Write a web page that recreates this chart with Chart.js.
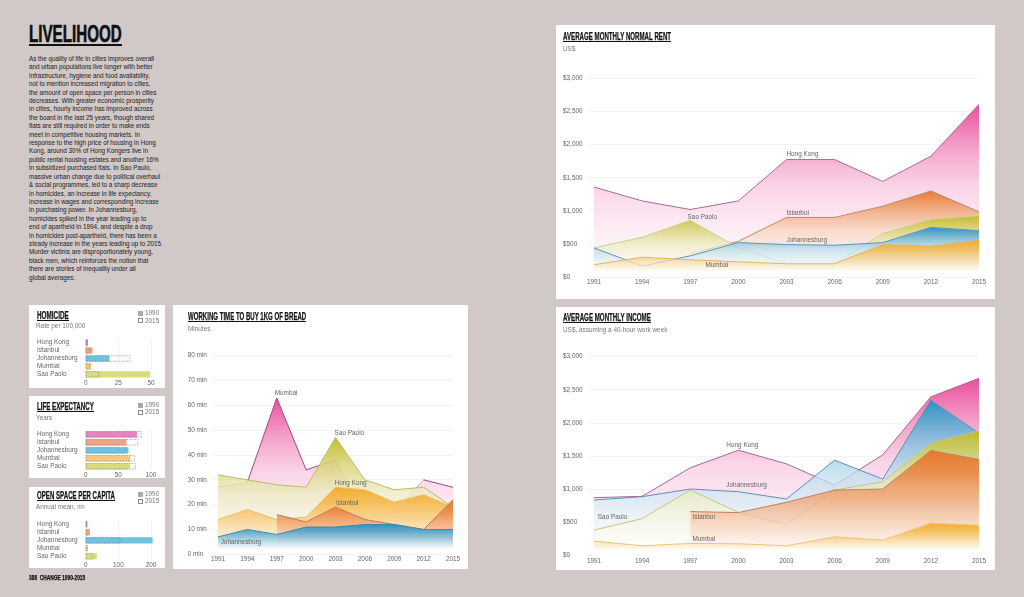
<!DOCTYPE html>
<html>
<head>
<meta charset="utf-8">
<title>Livelihood</title>
<script src="https://cdn.jsdelivr.net/npm/chart.js@4"></script>
<style>
  html, body { margin: 0; padding: 0; }
  body { width: 1024px; height: 597px; background: #d1c9c8; position: relative; overflow: hidden; font-family: "Liberation Sans", sans-serif; }
  .panel { position: absolute; background: #fff; }
  .panel canvas { position: absolute; left: 0; top: 0; }
  .title, .heading, .footer { position: absolute; white-space: nowrap; font-family: "Liberation Sans Narrow", "Liberation Sans", sans-serif; font-weight: 700; color: #111; transform-origin: left top; -webkit-text-stroke: 0.25px #111; }
  .title { font-size: 10.5px; line-height: 9px; border-bottom: 1px solid #111; }
  .heading { font-size: 23px; line-height: 19px; border-bottom: 2px solid #111; left: 29px; top: 25px; -webkit-text-stroke: 0.6px #111; }
  .footer { font-size: 7px; line-height: 8px; left: 29px; top: 574px; }
  .sub { position: absolute; font-size: 6.4px; line-height: 8px; color: #777; white-space: nowrap; }
  .body { position: absolute; left: 29px; top: 55px; font-size: 6.3px; line-height: 8.41px; color: #2a2a2a; white-space: nowrap; -webkit-text-stroke: 0.05px #222; }
  .key { position: absolute; width: 4.5px; height: 4.5px; box-sizing: border-box; }
  .key.old { background: #aaa; }
  .key.new { border: 0.6px dashed #888; }
</style>
</head>
<body>

<div class="heading" data-w="93">LIVELIHOOD</div>
<div class="body">As the quality of life in cities improves overall<br>and urban populations live longer with better<br>infrastructure, hygiene and food availability,<br>not to mention increased migration to cities,<br>the amount of open space per person in cities<br>decreases. With greater economic prosperity<br>in cities, hourly income has improved across<br>the board in the last 25 years, though shared<br>flats are still required in order to make ends<br>meet in competitive housing markets. In<br>response to the high price of housing in Hong<br>Kong, around 30% of Hong Kongers live in<br>public rental housing estates and another 16%<br>in subsidized purchased flats. In Sao Paulo,<br>massive urban change due to political overhaul<br>&amp; social programmes, led to a sharp decrease<br>in homicides, an increase in life expectancy,<br>increase in wages and corresponding increase<br>in purchasing power. In Johannesburg,<br>homicides spiked in the year leading up to<br>end of apartheid in 1994, and despite a drop<br>in homicides post-apartheid, there has been a<br>steady increase in the years leading up to 2015.<br>Murder victims are disproportionately young,<br>black men, which reinforces the notion that<br>there are stories of inequality under all<br>global averages.</div>

<div class="panel" style="left:556px;top:25px;width:439px;height:274px"><canvas id="rentChart" width="439" height="274"></canvas>
  <div class="title" data-w="108" style="left:7px;top:7px">AVERAGE MONTHLY NORMAL RENT</div>
  <div class="sub" style="left:7px;top:20px">US$</div>
</div>

<div class="panel" style="left:556px;top:307px;width:439px;height:263px"><canvas id="incomeChart" width="439" height="263"></canvas>
  <div class="title" data-w="88" style="left:7px;top:6px">AVERAGE MONTHLY INCOME</div>
  <div class="sub" style="left:7px;top:19px">US$, assuming a 40-hour work week</div>
</div>

<div class="panel" style="left:173px;top:305px;width:295px;height:264px"><canvas id="breadChart" width="295" height="264"></canvas>
  <div class="title" data-w="118" style="left:15px;top:7px">WORKING TIME TO BUY 1KG OF BREAD</div>
  <div class="sub" style="left:15px;top:20px">Minutes</div>
</div>

<div class="panel" style="left:29px;top:305px;width:136px;height:83px"><canvas id="homicideChart" width="136" height="83"></canvas>
  <div class="title" data-w="32" style="left:8px;top:6px">HOMICIDE</div>
  <div class="sub" style="left:7px;top:17px">Rate per 100,000</div>
  <div class="key old" style="left:109px;top:6px"></div><div class="sub" style="left:116px;top:4px">1990</div>
  <div class="key new" style="left:109px;top:13px"></div><div class="sub" style="left:116px;top:12px">2015</div>
</div>

<div class="panel" style="left:29px;top:396px;width:136px;height:82px"><canvas id="lifeChart" width="136" height="82"></canvas>
  <div class="title" data-w="57" style="left:8px;top:6px">LIFE EXPECTANCY</div>
  <div class="sub" style="left:7px;top:18px">Years</div>
  <div class="key old" style="left:109px;top:7px"></div><div class="sub" style="left:116px;top:5px">1990</div>
  <div class="key new" style="left:109px;top:14px"></div><div class="sub" style="left:116px;top:12px">2015</div>
</div>

<div class="panel" style="left:29px;top:487px;width:136px;height:81px"><canvas id="openChart" width="136" height="81"></canvas>
  <div class="title" data-w="78" style="left:8px;top:4px">OPEN SPACE PER CAPITA</div>
  <div class="sub" style="left:7px;top:16px">Annual mean, m²</div>
  <div class="key old" style="left:109px;top:5px"></div><div class="sub" style="left:116px;top:3px">1990</div>
  <div class="key new" style="left:109px;top:12px"></div><div class="sub" style="left:116px;top:10px">2015</div>
</div>

<div class="footer" data-w="56">386&nbsp;&nbsp;CHANGE 1990-2015</div>

<script>
var years = ["1991","1994","1997","2000","2003","2006","2009","2012","2015"];
var cities = ["Hong Kong","Istanbul","Johannesburg","Mumbai","Sao Paolo"];

var rentTicks = ["$0","$500","$1,000","$1,500","$2,000","$2,500","$3,000"];
var rentHongKong = [1360,1150,1020,1150,1775,1775,1445,1825,2610];
var rentIstanbul = [null,null,355,540,900,900,1070,1300,985];
var rentSaoPaolo = [440,600,855,440,205,205,655,870,925];
var rentJohannesburg = [440,165,320,520,490,480,520,750,700];
var rentMumbai = [185,300,260,230,200,200,490,465,555];

var incomeHongKong = [875,895,1325,1590,1385,1065,1520,2395,2675];
var incomeJohannesburg = [840,890,1005,965,855,1440,1155,2345,1845];
var incomeSaoPaolo = [385,560,990,655,470,990,1115,1695,1880];
var incomeIstanbul = [null,null,665,650,805,990,1005,1585,1450];
var incomeMumbai = [220,150,185,180,150,285,235,490,460];

var breadTicks = ["0 min","10 min","20 min","30 min","40 min","50 min","60 min","70 min","80 min"];
var breadMumbai = [27,29,63,34,38,14,17,30,27];
var breadSaoPaolo = [32,30,28,27,47,30,26,27,19];
var breadHongKong = [14,18,14,15,27,26,21,24,19];
var breadIstanbul = [null,null,16,13,19,14,12,10,22];
var breadJohannesburg = [7,10,8,11,11,12,12,10,10];

var homicide1990 = [1.5,5,18,4,49];
var homicide2015 = [1.5,3,34,3,10];
var life1990 = [78,62,65,68,67];
var life2015 = [85,80,60,75,76];
var open1990 = [4,11,204,5,33];
var open2015 = [4,12,105,5,20];

var pink = [232,72,150], orange = [232,118,44], olive = [192,188,40], blue = [40,146,198], amber = [244,172,44];
var barColors = ["#e884bb","#eda484","#6fc1e0","#f5c87c","#d9dc7c"];
var tickFont = { family: "Liberation Sans", size: 6.4 };

// how far each stop of a fill is washed towards white
var sharpFade = [0, 0.38, 0.7, 0.87, 1];
var softFade = [0, 0.12, 0.35, 0.68, 1];

function tint(rgb, white, alpha) {
  var c = rgb.map(function (v) { return Math.round(v + (255 - v) * white); });
  return "rgba(" + c.join(",") + "," + alpha + ")";
}

// area fill that washes out to white going down from the series' own peak
function fade(rgb, values, curve) {
  return function (c) {
    var area = c.chart.chartArea;
    if (!area) return "transparent";
    var y = c.chart.scales.y;
    var top = y.getPixelForValue(Math.max.apply(null, values));
    var g = c.chart.ctx.createLinearGradient(0, top, 0, area.bottom - 5);
    g.addColorStop(0, tint(rgb, curve[0], 0.97));
    g.addColorStop(0.25, tint(rgb, curve[1], 0.85));
    g.addColorStop(0.5, tint(rgb, curve[2], 0.75));
    g.addColorStop(0.75, tint(rgb, curve[3], 0.75));
    g.addColorStop(1, tint(rgb, curve[4], 0.85));
    return g;
  };
}

function area(values, rgb, line, curve) {
  return { data: values, fill: "origin", tension: 0, pointRadius: 0, borderWidth: 1, borderColor: line, backgroundColor: fade(rgb, values, curve || sharpFade) };
}

// city names written next to the lines, in data coordinates
var cityLabels = {
  id: "cityLabels",
  afterDatasetsDraw: function (chart, args, opts) {
    var ctx = chart.ctx;
    ctx.save();
    ctx.font = "6.4px 'Liberation Sans'";
    ctx.fillStyle = "#666";
    ctx.textBaseline = "middle";
    (opts.items || []).forEach(function (it) {
      ctx.fillText(it[0], chart.scales.x.getPixelForValue(it[1]), chart.scales.y.getPixelForValue(it[2]));
    });
    ctx.restore();
  }
};

// bars have no dash option, so the 2015 outlines go on afterwards
var dashedBars = {
  id: "dashedBars",
  afterDatasetsDraw: function (chart) {
    if (chart.config.type !== "bar") return;
    var ctx = chart.ctx;
    ctx.save();
    ctx.setLineDash([1.5, 1.2]);
    ctx.lineWidth = 0.6;
    ctx.strokeStyle = "#6f7f88";
    chart.getDatasetMeta(1).data.forEach(function (bar) {
      ctx.strokeRect(bar.base, bar.y - bar.height / 2, bar.x - bar.base, bar.height);
    });
    ctx.restore();
  }
};

function lineChart(id, sets, ticks, step, labels, box) {
  new Chart(document.getElementById(id), {
    type: "line",
    data: { labels: years, datasets: sets },
    plugins: [cityLabels],
    options: {
      responsive: false,
      animation: false,
      layout: { padding: { left: box.left, top: box.top, right: box.right, bottom: 0 } },
      plugins: { legend: { display: false }, tooltip: { enabled: false }, cityLabels: { items: labels } },
      scales: {
        x: {
          grid: { display: false, drawTicks: false },
          border: { display: false },
          ticks: { font: tickFont, color: "#666", padding: 1.5, maxRotation: 0, autoSkip: false },
          afterFit: function (s) { s.height = box.xHeight; }
        },
        y: {
          min: 0,
          max: step * (ticks.length - 1),
          grid: { color: "#eeeeee", lineWidth: 0.7, tickLength: 6 },
          border: { display: false },
          ticks: {
            stepSize: step, font: tickFont, color: "#666", crossAlign: "far", padding: 0,
            callback: function (v) { return ticks[v / step]; }
          },
          afterFit: function (s) { s.width = box.yWidth; }
        }
      }
    }
  });
}

function barChart(id, old, now, max, step, box) {
  new Chart(document.getElementById(id), {
    type: "bar",
    data: {
      labels: cities,
      datasets: [
        { data: old, backgroundColor: barColors, barThickness: 5.5, grouped: false, clip: false },
        { data: now, backgroundColor: "transparent", barThickness: 5.5, grouped: false, clip: false }
      ]
    },
    plugins: [dashedBars],
    options: {
      indexAxis: "y",
      responsive: false,
      animation: false,
      layout: { padding: { left: 8, top: box.top, right: 14, bottom: 0 } },
      plugins: { legend: { display: false }, tooltip: { enabled: false } },
      scales: {
        x: {
          min: 0, max: max,
          grid: { color: "#eeeeee", lineWidth: 0.7, drawTicks: false },
          border: { display: false },
          ticks: { stepSize: step, font: tickFont, color: "#666", padding: 1, maxRotation: 0 },
          afterFit: function (s) { s.height = box.xHeight; }
        },
        y: {
          grid: { display: false, drawTicks: false },
          border: { display: false },
          ticks: { font: tickFont, color: "#666", crossAlign: "far", padding: 0, autoSkip: false },
          afterFit: function (s) { s.width = 48.7; }
        }
      }
    }
  });
}

lineChart("rentChart", [
  area(rentMumbai, amber, "#e6b45e", softFade),
  area(rentJohannesburg, blue, "#5b97b8"),
  area(rentSaoPaolo, olive, "#ccd088"),
  area(rentIstanbul, orange, "#b98a72"),
  area(rentHongKong, pink, "#ad6a92")
], rentTicks, 500, [
  ["Hong Kong", 4, 1850], ["Istanbul", 4, 958], ["Johannesburg", 4, 550],
  ["Sao Paolo", 1.945, 902], ["Mumbai", 2.315, 176]
], { left: 7, top: 53.5, right: 16, yWidth: 31, xHeight: 22 });

lineChart("incomeChart", [
  area(incomeMumbai, amber, "#ecc67c", softFade),
  area(incomeIstanbul, orange, "#c08068", softFade),
  area(incomeSaoPaolo, olive, "#c4c48a"),
  area(incomeJohannesburg, blue, "#5f8fb4"),
  area(incomeHongKong, pink, "#a8688f")
], rentTicks, 500, [
  ["Hong Kong", 2.75, 1663], ["Johannesburg", 2.75, 1065], ["Sao Paolo", 0.08, 573],
  ["Istanbul", 2.045, 573], ["Mumbai", 2.045, 241]
], { left: 7, top: 49.7, right: 16, yWidth: 31, xHeight: 14.3 });

// the Mumbai bread line only shows its pink where it clears the other cities
var breadMumbaiArea = area(breadMumbai, pink, "#a04880");
breadMumbaiArea.segment = {
  borderColor: function (s) {
    return [0, 4, 5, 6].indexOf(s.p0DataIndex) >= 0 ? "#c8b48a" : undefined;
  }
};

lineChart("breadChart", [
  area(breadJohannesburg, blue, "#3f8aaa", softFade),
  area(breadIstanbul, orange, "#c07a58", softFade),
  area(breadHongKong, amber, "#e6c070", softFade),
  area(breadSaoPaolo, olive, "#b8bc70"),
  breadMumbaiArea
], breadTicks, 10, [
  ["Mumbai", 1.93, 64.8], ["Sao Paolo", 3.97, 48.6], ["Hong Kong", 3.97, 28.6],
  ["Istanbul", 4.02, 20.7], ["Johannesburg", 0.09, 4.8]
], { left: 14.7, top: 50.7, right: 15, yWidth: 30.3, xHeight: 14.7 });

barChart("homicideChart", homicide1990, homicide2015, 50, 25, { top: 33.7, xHeight: 9.7 });
barChart("lifeChart", life1990, life2015, 100, 50, { top: 34.3, xHeight: 7.7 });
barChart("openChart", open1990, open2015, 200, 100, { top: 33.3, xHeight: 7.7 });

// squeeze headings to the widths they have in the print layout
document.querySelectorAll("[data-w]").forEach(function (el) {
  el.style.transform = "scaleX(" + (el.dataset.w / el.offsetWidth) + ")";
});
</script>
</body>
</html>
